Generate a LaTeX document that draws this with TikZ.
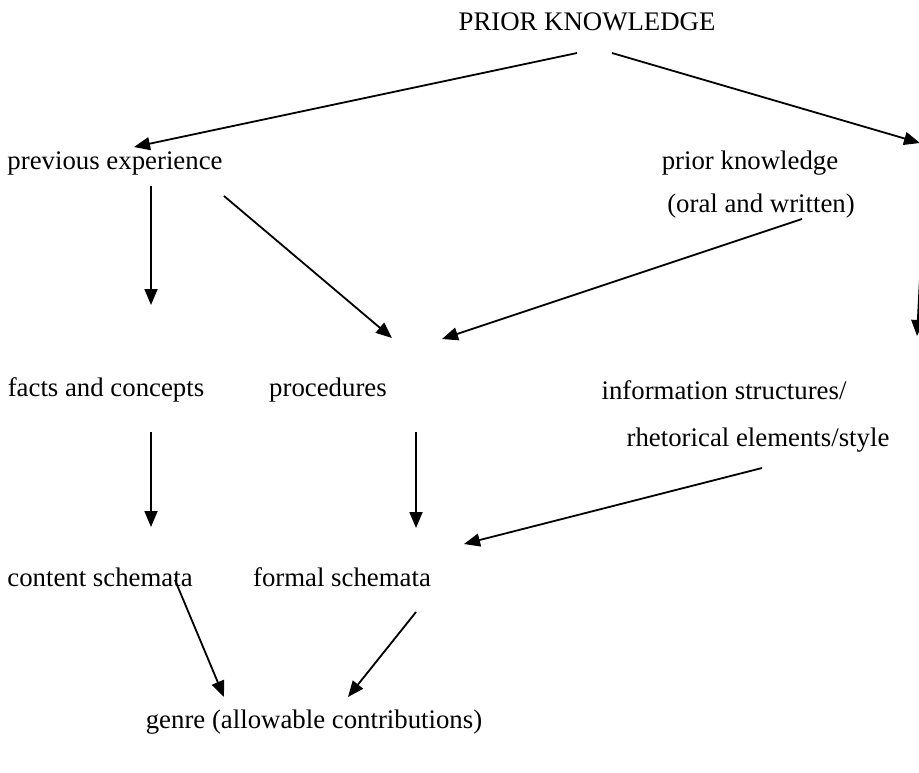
\documentclass[tikz,border=0pt]{standalone}
\usepackage{fontspec}
\setmainfont{Liberation Serif}
\usetikzlibrary{arrows.meta}
\begin{document}
\begin{tikzpicture}[x=0.5pt,y=-0.5pt,
  lbl/.style={inner sep=0pt,font=\fontsize{13.4}{16}\selectfont},
  arr/.style={line width=0.9pt,-{Triangle[length=8pt,width=6.5pt]}}]
\useasboundingbox (0,0) rectangle (919,772);
\clip (0,0) rectangle (919,772);
\node[lbl] (pk) at (587,22) {PRIOR KNOWLEDGE};
\node[lbl] (pe) at (115,163) {previous experience};
\node[lbl] (pk2) at (750,163) {prior knowledge};
\node[lbl] (ow) at (761,206) {(oral and written)};
\node[lbl] (fc) at (106,390) {facts and concepts};
\node[lbl] (pr) at (328,390) {procedures};
\node[lbl] (is) at (724,390) {information structures/};
\node[lbl] (re) at (758,440) {rhetorical elements/style};
\node[lbl] (cs) at (100,577) {content schemata};
\node[lbl] (fs) at (342,577) {formal schemata};
\node[lbl] (ge) at (314,722) {genre (allowable contributions)};
% coordinates
\coordinate (a1s) at (577,53); \coordinate (a1e) at (134,147);
\coordinate (a2s) at (612,53); \coordinate (a2e) at (920,143);
\coordinate (a3s) at (151,186); \coordinate (a3e) at (151,305);
\coordinate (a4s) at (224,196); \coordinate (a4e) at (392,338);
\coordinate (a5s) at (802,219); \coordinate (a5e) at (442,339);
\coordinate (a6s) at (924,200); \coordinate (a6e) at (917,336);
\coordinate (a7s) at (151,432); \coordinate (a7e) at (151,527);
\coordinate (a8s) at (416,432); \coordinate (a8e) at (416,528);
\coordinate (a9s) at (762,468); \coordinate (a9e) at (464,544);
\coordinate (a10s) at (175,580); \coordinate (a10e) at (224,697);
\coordinate (a11s) at (416,612); \coordinate (a11e) at (348,697);
\draw[arr] (a1s) -- (a1e);
\draw[arr] (a2s) -- (a2e);
\draw[arr] (a3s) -- (a3e);
\draw[arr] (a4s) -- (a4e);
\draw[arr] (a5s) -- (a5e);
\draw[arr] (a6s) -- (a6e);
\draw[arr] (a7s) -- (a7e);
\draw[arr] (a8s) -- (a8e);
\draw[arr] (a9s) -- (a9e);
\draw[arr] (a10s) -- (a10e);
\draw[arr] (a11s) -- (a11e);
\end{tikzpicture}
\end{document}
